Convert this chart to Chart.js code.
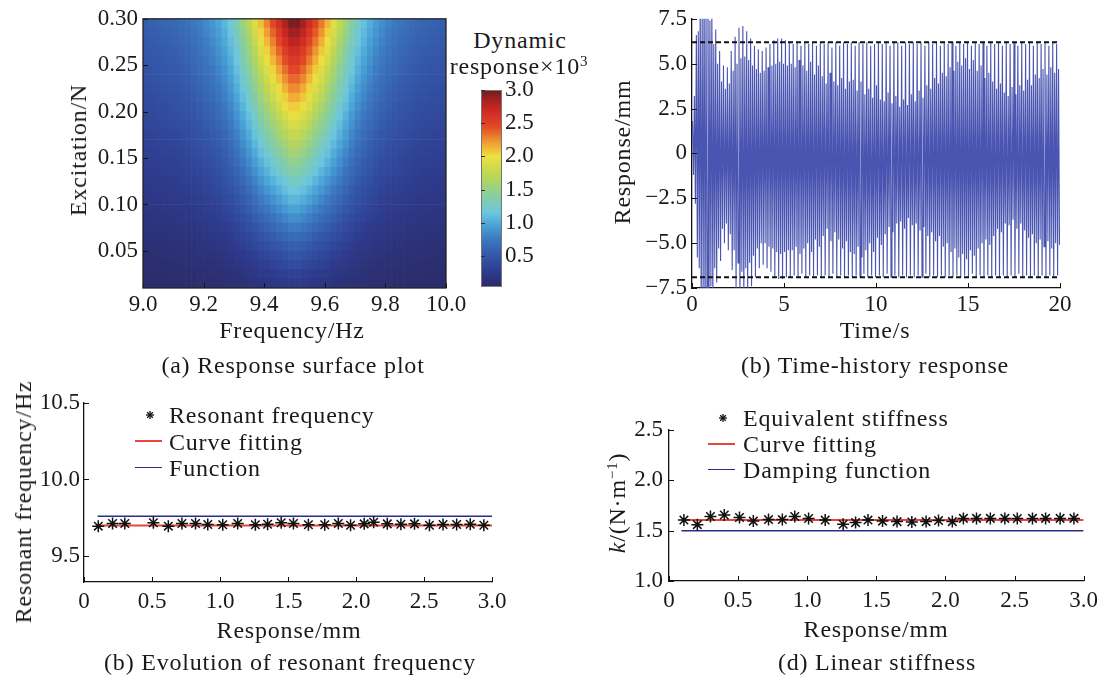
<!DOCTYPE html>
<html>
<head>
<meta charset="utf-8">
<script src="https://cdn.jsdelivr.net/npm/chart.js@4.4.1/dist/chart.umd.min.js"></script>
<style>
  body { margin: 0; background: #fff; }
  #page { position: relative; width: 1104px; height: 678px; overflow: hidden;
          font-family: 'Liberation Serif', serif; color: #1a1a1a; }
  canvas { position: absolute; }
  .t { position: absolute; transform: translate(-50%, -50%); white-space: nowrap;
       font-size: 24px; line-height: 1; letter-spacing: 0.8px; }
  .r { transform: translate(-50%, -50%) rotate(-90deg); }
  .leg { position: absolute; transform: translateY(-50%); white-space: nowrap;
         font-size: 24px; line-height: 1; letter-spacing: 0.8px; }
  .sw { position: absolute; width: 27px; height: 0; }
  sup { font-size: 15px; vertical-align: 8px; line-height: 0; }
</style>
</head>
<body>
<div id="page">
  <canvas id="cA" width="470" height="345" style="left:0;top:0"></canvas>
  <canvas id="cBar" width="80" height="234" style="left:470px;top:70px"></canvas>
  <canvas id="cB" width="504" height="345" style="left:600px;top:0"></canvas>
  <canvas id="cC" width="530" height="260" style="left:0;top:380px"></canvas>
  <canvas id="cD" width="504" height="260" style="left:600px;top:380px"></canvas>

  <!-- (a) -->
  <div class="t" style="left:292px;top:330px">Frequency/Hz</div>
  <div class="t r" style="left:78px;top:150px">Excitation/N</div>
  <div class="t" style="left:293px;top:365px">(a) Response surface plot</div>
  <div class="t" style="left:520px;top:40px">Dynamic</div>
  <div class="t" style="left:519px;top:66px">response×10<sup>3</sup></div>

  <!-- (b) -->
  <div class="t" style="left:875px;top:330px">Time/s</div>
  <div class="t r" style="left:622px;top:152px">Response/mm</div>
  <div class="t" style="left:875px;top:365px">(b) Time-history response</div>

  <!-- (c) -->
  <div class="t" style="left:289px;top:630px">Response/mm</div>
  <div class="t r" style="left:23px;top:502px">Resonant frequency/Hz</div>
  <div class="t" style="left:290px;top:662px">(b) Evolution of resonant frequency</div>
  <svg style="position:absolute;left:145px;top:410px" width="10" height="10">
    <g stroke="#111" stroke-width="1.3"><line x1="5" y1="1" x2="5" y2="9"/><line x1="1" y1="5" x2="9" y2="5"/>
    <line x1="2.2" y1="2.2" x2="7.8" y2="7.8"/><line x1="7.8" y1="2.2" x2="2.2" y2="7.8"/></g></svg>
  <div class="leg" style="left:169px;top:415px">Resonant frequency</div>
  <div class="sw" style="left:135px;top:440px;border-top:2px solid #e8453c"></div>
  <div class="leg" style="left:169px;top:442px">Curve fitting</div>
  <div class="sw" style="left:135px;top:467px;border-top:1.5px solid #2b2d8a"></div>
  <div class="leg" style="left:169px;top:468px">Function</div>

  <!-- (d) -->
  <div class="t" style="left:876px;top:629px">Response/mm</div>
  <div class="t r" style="left:617px;top:503px"><i>k</i>/(N·m<sup>−1</sup>)</div>
  <div class="t" style="left:877px;top:662px">(d) Linear stiffness</div>
  <svg style="position:absolute;left:718px;top:413px" width="10" height="10">
    <g stroke="#111" stroke-width="1.3"><line x1="5" y1="1" x2="5" y2="9"/><line x1="1" y1="5" x2="9" y2="5"/>
    <line x1="2.2" y1="2.2" x2="7.8" y2="7.8"/><line x1="7.8" y1="2.2" x2="2.2" y2="7.8"/></g></svg>
  <div class="leg" style="left:743px;top:418px">Equivalent stiffness</div>
  <div class="sw" style="left:708px;top:443px;border-top:2px solid #e8453c"></div>
  <div class="leg" style="left:743px;top:444px">Curve fitting</div>
  <div class="sw" style="left:708px;top:469px;border-top:1.5px solid #2b2d8a"></div>
  <div class="leg" style="left:743px;top:470px">Damping function</div>
</div>

<script>
// (a) response surface: cell centres on frequency, cell edges on excitation
const frequencyCells = [9.01, 9.03, 9.05, 9.07, 9.09, 9.11, 9.13, 9.15, 9.17, 9.19,
  9.21, 9.23, 9.25, 9.27, 9.29, 9.31, 9.33, 9.35, 9.37, 9.39,
  9.41, 9.43, 9.45, 9.47, 9.49, 9.51, 9.53, 9.55, 9.57, 9.59,
  9.61, 9.63, 9.65, 9.67, 9.69, 9.71, 9.73, 9.75, 9.77, 9.79,
  9.81, 9.83, 9.85, 9.87, 9.89, 9.91, 9.93, 9.95, 9.97, 9.99];
const excitationEdges = [0.01, 0.02, 0.03, 0.04, 0.05, 0.06, 0.07, 0.08, 0.09, 0.10,
  0.11, 0.12, 0.13, 0.14, 0.15, 0.16, 0.17, 0.18, 0.19, 0.20,
  0.21, 0.22, 0.23, 0.24, 0.25, 0.26, 0.27, 0.28, 0.29, 0.30];
// peak response (x10^3) of each excitation row, read at 9.5 Hz
const rowPeak = [0.25, 0.32, 0.40, 0.48, 0.57, 0.66, 0.76, 0.86, 0.96, 1.06,
  1.16, 1.26, 1.36, 1.46, 1.56, 1.66, 1.76, 1.86, 1.96, 2.06,
  2.16, 2.26, 2.36, 2.46, 2.56, 2.66, 2.76, 2.86, 2.96];
// relative shape across frequency, read from the top row
const columnShape = [0.19, 0.195, 0.20, 0.205, 0.21, 0.215, 0.225, 0.235, 0.25, 0.265,
  0.285, 0.305, 0.33, 0.36, 0.40, 0.45, 0.51, 0.57, 0.64, 0.71,
  0.77, 0.83, 0.89, 0.95, 1.00, 1.00, 0.96, 0.90, 0.84, 0.78,
  0.72, 0.65, 0.59, 0.53, 0.47, 0.42, 0.38, 0.345, 0.315, 0.29,
  0.27, 0.255, 0.24, 0.23, 0.22, 0.21, 0.205, 0.20, 0.195, 0.19];
const freqTicks = [9.0, 9.2, 9.4, 9.6, 9.8, 10.0];
const excitationTicks = [0.05, 0.10, 0.15, 0.20, 0.25, 0.30];
const colorbarRange = [0.03, 3.0];
const colorbarTicks = [0.5, 1.0, 1.5, 2.0, 2.5, 3.0];

// (b) time history: successive upper and lower peaks of each cycle
const peakSpacing = 1 / 19;   // s between an upper and the next lower peak
const upperPeaks = [
  1.8, 3.2, 6.6, 6.8, 9.0, 8.0, 9.8, 8.2, 9.2, 7.4,
  8.2, 6.1, 6.9, 5.0, 5.7, 4.0, 4.9, 3.6, 4.8, 3.9,
  5.7, 4.6, 6.5, 5.0, 7.0, 5.3, 7.1, 5.4, 6.8, 5.2,
  6.4, 4.9, 6.0, 4.7, 5.8, 4.5, 5.7, 4.6, 5.9, 4.8,
  6.1, 4.9, 6.3, 5.0, 6.4, 5.1, 6.4, 5.0, 6.3, 4.9,
  6.2, 5.0, 6.1, 4.8, 6.2, 5.2, 6.0, 4.9, 6.2, 4.6, 6.1, 5.1, 6.2, 4.4, 6.0, 4.9,
  6.2, 4.3, 6.1, 3.9, 6.2, 4.5, 5.9, 4.0, 6.2, 3.8, 6.0, 4.2, 6.2, 3.6, 6.1, 4.0,
  6.2, 4.1, 6.0, 3.5, 6.2, 4.0, 6.1, 3.3, 6.2, 3.6, 6.0, 3.1, 6.1, 3.8, 6.2, 3.0,
  6.1, 2.9, 6.2, 3.4, 6.0, 2.8, 6.2, 3.2, 6.2, 2.6, 6.0, 3.0, 6.2, 2.7, 6.1, 3.3,
  6.2, 2.9, 6.1, 3.5, 6.2, 3.1, 6.0, 3.8, 6.2, 3.6, 6.1, 4.2, 6.2, 3.9, 6.0, 4.5,
  6.2, 4.3, 6.1, 4.8, 6.2, 4.6, 6.0, 5.1, 6.2, 4.9, 6.1, 5.3, 6.2, 4.7, 6.0, 5.2,
  6.2, 4.6, 6.1, 4.9, 6.2, 4.2, 6.0, 4.5, 6.2, 4.0, 6.1, 3.6, 6.2, 3.9, 6.0, 3.4,
  6.2, 3.2, 6.1, 3.7, 6.2, 3.3, 6.0, 3.8, 6.2, 3.5, 6.1, 4.1, 6.2, 3.8, 6.0, 4.4,
  6.2, 4.2, 6.1, 4.7, 6.2, 4.4, 6.0, 4.8, 6.2, 4.5, 6.1, 4.7];
const lowerPeaks = [
  -1.2, -2.8, -5.8, -6.4, -8.8, -7.9, -9.8, -8.1, -9.3, -7.4,
  -8.4, -6.4, -7.2, -5.3, -6.0, -4.2, -5.0, -3.9, -5.4, -4.5,
  -6.5, -5.4, -7.5, -6.1, -8.2, -6.6, -8.2, -6.4, -7.8, -6.1,
  -7.4, -5.7, -6.9, -5.3, -6.4, -5.0, -6.2, -5.0, -6.4, -5.2,
  -6.6, -5.3, -6.9, -5.5, -7.0, -5.6, -7.0, -5.5, -6.9, -5.4,
  -6.9, -5.4, -6.8, -5.2, -6.9, -5.6, -6.7, -5.3, -6.9, -5.0, -6.8, -5.5, -6.9, -4.8, -6.8, -5.2,
  -6.9, -4.6, -6.8, -4.2, -6.9, -4.9, -6.7, -4.4, -6.9, -4.8, -6.8, -5.3, -6.9, -4.9, -6.8, -5.5,
  -6.9, -5.6, -6.8, -5.2, -6.9, -5.8, -6.7, -5.4, -6.9, -5.0, -6.8, -5.5, -6.9, -4.7, -6.8, -5.1,
  -6.9, -4.5, -6.7, -4.1, -6.9, -4.4, -6.8, -3.9, -6.9, -3.8, -6.8, -4.2, -6.9, -3.6, -6.8, -4.0,
  -6.9, -3.9, -6.8, -4.3, -6.9, -4.1, -6.7, -4.6, -6.9, -4.4, -6.8, -4.9, -6.9, -4.6, -6.8, -5.2,
  -6.9, -5.0, -6.8, -5.5, -6.9, -5.3, -6.8, -5.8, -6.9, -5.6, -6.8, -5.9, -6.9, -5.4, -6.7, -5.7,
  -6.9, -5.3, -6.8, -5.0, -6.9, -4.8, -6.8, -5.1, -6.9, -4.6, -6.8, -4.2, -6.9, -4.4, -6.8, -3.9,
  -6.9, -4.0, -6.8, -3.7, -6.9, -4.2, -6.7, -3.9, -6.9, -4.3, -6.8, -4.7, -6.9, -4.5, -6.8, -5.0,
  -6.9, -4.8, -6.8, -5.2, -6.9, -4.9, -6.8, -5.3, -6.9, -5.0, -6.8, -5.1];
const boundSpan = [0, 20];
const upperBound = 6.2;
const lowerBound = -6.9;
const timeTicks = [0, 5, 10, 15, 20];
const responseTicks = [-7.5, -5.0, -2.5, 0, 2.5, 5.0, 7.5];

// (c) resonant frequency
const resonanceResponse = [0.105, 0.21, 0.30, 0.51, 0.62, 0.72, 0.82, 0.91, 1.02, 1.13,
  1.26, 1.35, 1.45, 1.54, 1.65, 1.77, 1.87, 1.96, 2.06, 2.13,
  2.23, 2.33, 2.43, 2.54, 2.64, 2.74, 2.84, 2.94];
const resonanceFreq = [9.695, 9.712, 9.712, 9.717, 9.695, 9.712, 9.712, 9.706, 9.704, 9.712,
  9.704, 9.708, 9.717, 9.712, 9.704, 9.704, 9.712, 9.701, 9.710, 9.721,
  9.710, 9.708, 9.710, 9.701, 9.706, 9.706, 9.708, 9.701];
const freqLineSpan = [0.1, 3.0];
const freqFitting = [9.70, 9.70];
const freqFunction = [9.76, 9.76];
const responseAxisTicks = [0, 0.5, 1.0, 1.5, 2.0, 2.5, 3.0];
const resonanceTicks = [9.5, 10.0, 10.5];

// (d) equivalent stiffness
const stiffnessResponse = [0.108, 0.205, 0.30, 0.40, 0.51, 0.61, 0.72, 0.82, 0.91, 1.01,
  1.13, 1.26, 1.35, 1.44, 1.545, 1.65, 1.757, 1.86, 1.95, 2.05,
  2.13, 2.225, 2.325, 2.43, 2.52, 2.63, 2.725, 2.83, 2.93];
const stiffness = [1.605, 1.56, 1.64, 1.655, 1.63, 1.595, 1.61, 1.61, 1.64, 1.62,
  1.605, 1.563, 1.58, 1.605, 1.595, 1.59, 1.587, 1.59, 1.60, 1.59,
  1.622, 1.622, 1.622, 1.622, 1.62, 1.622, 1.622, 1.622, 1.622];
const stiffLineSpan = [0.09, 3.0];
const stiffFitting = [1.605, 1.605];
const stiffDamping = [1.50, 1.50];
const stiffnessTicks = [1.0, 1.5, 2.0, 2.5];

// colour map of the surface (value -> rgb)
const colorMapStops = [
  [0.00, [42, 42, 100]], [0.25, [46, 58, 140]], [0.50, [52, 86, 168]],
  [0.75, [60, 120, 192]], [0.95, [72, 160, 214]], [1.15, [108, 198, 222]],
  [1.40, [134, 206, 160]], [1.70, [186, 214, 86]], [2.00, [238, 224, 62]],
  [2.20, [240, 160, 52]], [2.45, [226, 72, 38]], [2.70, [204, 40, 34]],
  [2.90, [150, 30, 32]], [3.00, [108, 28, 30]]
];

function colorFor(v) {
  const s = colorMapStops;
  if (v <= s[0][0]) return `rgb(${s[0][1].join(',')})`;
  for (let i = 1; i < s.length; i++) {
    if (v <= s[i][0]) {
      const f = (v - s[i - 1][0]) / (s[i][0] - s[i - 1][0]);
      const c = s[i - 1][1].map((a, k) => Math.round(a + (s[i][1][k] - a) * f));
      return `rgb(${c.join(',')})`;
    }
  }
  return `rgb(${s[s.length - 1][1].join(',')})`;
}

Chart.defaults.font.family = "'Liberation Serif', serif";
Chart.defaults.font.size = 23;
Chart.defaults.color = '#1a1a1a';
Chart.defaults.animation = false;
Chart.defaults.events = [];
Chart.defaults.plugins.legend.display = false;
Chart.defaults.plugins.tooltip.enabled = false;

// short tick marks pointing into the plot, plus an optional frame
const inwardTicks = {
  id: 'inwardTicks',
  afterDatasetsDraw(chart, args, opts) {
    const { ctx, chartArea: a } = chart;
    const len = opts.len || 5;
    ctx.save();
    ctx.strokeStyle = opts.color || '#111';
    ctx.lineWidth = 1;
    ctx.beginPath();
    (opts.sides || []).forEach(side => {
      const scale = side === 'bottom' ? chart.scales.x : chart.scales.y;
      scale.ticks.forEach(t => {
        const p = Math.round(scale.getPixelForValue(t.value)) + 0.5;
        if (side === 'bottom') { ctx.moveTo(p, a.bottom); ctx.lineTo(p, a.bottom - len); }
        else { ctx.moveTo(a.left, p); ctx.lineTo(a.left + len, p); }
      });
    });
    ctx.stroke();
    if (opts.box) {
      ctx.lineWidth = 1.3;
      ctx.strokeStyle = '#222';
      ctx.strokeRect(a.left, a.top, a.width, a.height);
    }
    ctx.restore();
  }
};

function axis(min, max, ticks, fmt, fit, extra) {
  return Object.assign({
    type: 'linear', min: min, max: max,
    grid: { display: false, drawTicks: false },
    border: { display: true, color: '#111', width: 1.3 },
    ticks: { callback: fmt, padding: 4, maxRotation: 0, autoSkip: false },
    afterBuildTicks: s => { s.ticks = ticks.map(v => ({ value: v })); },
    afterFit: fit
  }, extra || {});
}
const fixW = w => s => { s.width = w; };
const fixH = h => s => { s.height = h; };
const dec = n => v => v.toFixed(n);
const short = v => (v === 0 ? '0' : v.toFixed(1));
const signed = v => (v === 0 ? '0' : (v < 0 ? '−' : '') + Math.abs(v).toFixed(1));

// (a) surface as floating bars, one dataset per excitation row
const surfaceRows = rowPeak.map((peak, r) => ({
  data: frequencyCells.map(f => ({ x: f, y: [excitationEdges[r], excitationEdges[r + 1]] })),
  backgroundColor: columnShape.map(sh => colorFor(peak * sh)),
  borderWidth: 0,
  grouped: false,
  barPercentage: 1,
  categoryPercentage: 1
}));

new Chart(document.getElementById('cA'), {
  type: 'bar',
  data: { datasets: surfaceRows },
  plugins: [inwardTicks],
  options: {
    responsive: false,
    layout: { padding: { top: 15, right: 24 } },
    scales: {
      x: axis(9.0, 10.0, freqTicks, dec(1), fixH(57), { offset: false, border: { display: false }, ticks: { callback: dec(1), padding: 3, maxRotation: 0, autoSkip: false } }),
      y: axis(0.01, 0.30, excitationTicks, dec(2), fixW(143), { border: { display: false }, ticks: { callback: dec(2), padding: 5, autoSkip: false } })
    },
    plugins: { inwardTicks: { sides: ['bottom', 'left'], box: true, len: 5 } }
  }
});

// colour bar
new Chart(document.getElementById('cBar'), {
  type: 'bar',
  data: {
    labels: [''],
    datasets: [{
      data: [colorbarRange],
      barPercentage: 1,
      categoryPercentage: 1,
      borderWidth: 1,
      borderColor: '#777',
      borderSkipped: false,
      inflateAmount: 0,
      backgroundColor: c => {
        const { chart } = c;
        if (!chart.chartArea) return '#3456a8';
        const y = chart.scales.y;
        const y0 = y.getPixelForValue(colorbarRange[0]);
        const y1 = y.getPixelForValue(colorbarRange[1]);
        const g = chart.ctx.createLinearGradient(0, y0, 0, y1);
        colorMapStops.forEach(([v]) => {
          const f = (v - colorbarRange[0]) / (colorbarRange[1] - colorbarRange[0]);
          g.addColorStop(Math.min(1, Math.max(0, f)), colorFor(v));
        });
        return g;
      }
    }]
  },
  plugins: [inwardTicks],
  options: {
    responsive: false,
    layout: { padding: { top: 20, bottom: 16, left: 11 } },
    scales: {
      x: { display: false },
      y: axis(colorbarRange[0], colorbarRange[1], colorbarTicks, dec(1), fixW(48),
        { position: 'right', border: { display: false }, ticks: { callback: dec(1), padding: 3, autoSkip: false } })
    },
    plugins: { inwardTicks: { sides: ['left'], len: 4, color: '#333' } }
  }
});

// (b) time history
const signal = [];
upperPeaks.forEach((u, k) => {
  signal.push({ x: (2 * k + 0.5) * peakSpacing, y: u });
  signal.push({ x: (2 * k + 1.5) * peakSpacing, y: lowerPeaks[k] });
});

new Chart(document.getElementById('cB'), {
  type: 'line',
  data: {
    datasets: [
      { data: boundSpan.map(t => ({ x: t, y: upperBound })), borderColor: '#111', borderWidth: 2, borderDash: [5, 3], pointRadius: 0 },
      { data: boundSpan.map(t => ({ x: t, y: lowerBound })), borderColor: '#111', borderWidth: 2, borderDash: [5, 3], pointRadius: 0 },
      { data: signal, borderColor: '#4a55b1', borderWidth: 1.1, pointRadius: 0, tension: 0 }
    ]
  },
  plugins: [inwardTicks],
  options: {
    responsive: false,
    layout: { padding: { top: 16, right: 44 } },
    scales: {
      x: axis(0, 20, timeTicks, v => String(v), fixH(57), { ticks: { callback: v => String(v), padding: 3, maxRotation: 0, autoSkip: false } }),
      y: axis(-7.5, 7.5, responseTicks, signed, fixW(92), { ticks: { callback: signed, padding: 5, autoSkip: false } })
    },
    plugins: { inwardTicks: { sides: ['bottom', 'left'], len: 5 } }
  }
});

// (c) resonant frequency
new Chart(document.getElementById('cC'), {
  type: 'scatter',
  data: {
    datasets: [
      { data: resonanceResponse.map((x, i) => ({ x: x, y: resonanceFreq[i] })), pointStyle: 'star', pointRadius: 6, borderColor: '#111', borderWidth: 1.5 },
      { data: freqLineSpan.map((x, i) => ({ x: x, y: freqFitting[i] })), showLine: true, pointRadius: 0, borderColor: '#e8453c', borderWidth: 2 },
      { data: freqLineSpan.map((x, i) => ({ x: x, y: freqFunction[i] })), showLine: true, pointRadius: 0, borderColor: '#2b2d8a', borderWidth: 1.5 }
    ]
  },
  plugins: [inwardTicks],
  options: {
    responsive: false,
    layout: { padding: { top: 23, right: 38 } },
    scales: {
      x: axis(0, 3.0, responseAxisTicks, short, fixH(58), { ticks: { callback: short, padding: 6, maxRotation: 0, autoSkip: false } }),
      y: axis(9.33, 10.5, resonanceTicks, dec(1), fixW(84), { ticks: { callback: dec(1), padding: 4, autoSkip: false } })
    },
    plugins: { inwardTicks: { sides: ['bottom', 'left'], len: 5 } }
  }
});

// (d) linear stiffness
new Chart(document.getElementById('cD'), {
  type: 'scatter',
  data: {
    datasets: [
      { data: stiffnessResponse.map((x, i) => ({ x: x, y: stiffness[i] })), pointStyle: 'star', pointRadius: 6, borderColor: '#111', borderWidth: 1.5 },
      { data: stiffLineSpan.map((x, i) => ({ x: x, y: stiffFitting[i] })), showLine: true, pointRadius: 0, borderColor: '#e8453c', borderWidth: 2 },
      { data: stiffLineSpan.map((x, i) => ({ x: x, y: stiffDamping[i] })), showLine: true, pointRadius: 0, borderColor: '#2b2d8a', borderWidth: 1.5 }
    ]
  },
  plugins: [inwardTicks],
  options: {
    responsive: false,
    layout: { padding: { top: 50, right: 20 } },
    scales: {
      x: axis(0, 3.0, responseAxisTicks, short, fixH(59), { ticks: { callback: short, padding: 6, maxRotation: 0, autoSkip: false } }),
      y: axis(1.0, 2.5, stiffnessTicks, dec(1), fixW(69), { ticks: { callback: dec(1), padding: 6, autoSkip: false } })
    },
    plugins: { inwardTicks: { sides: ['bottom', 'left'], len: 5 } }
  }
});
</script>
</body>
</html>
